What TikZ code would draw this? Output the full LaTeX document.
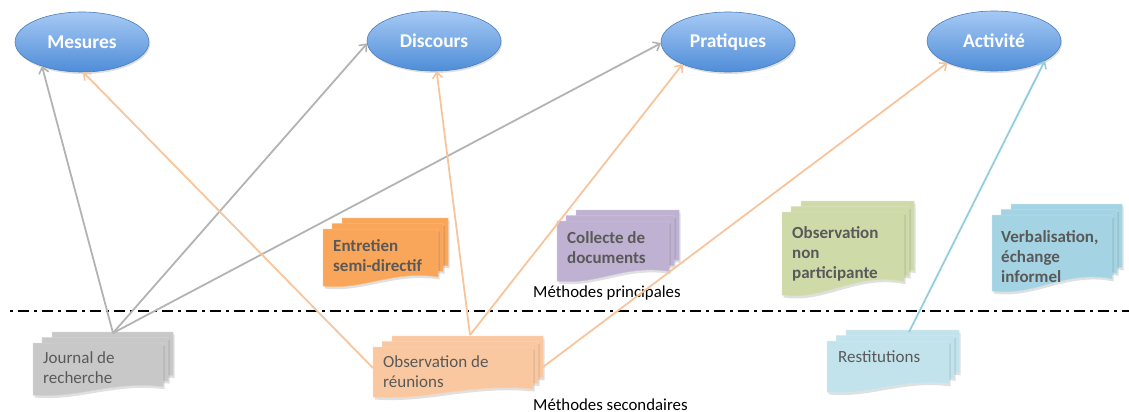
\documentclass[tikz,border=0pt]{standalone}
\usepackage{fontspec}
\setmainfont{Carlito}
\usetikzlibrary{shapes.geometric,arrows.meta,shadows}
\definecolor{elltop}{HTML}{A6C9F4}
\definecolor{ellbot}{HTML}{4F8DD8}
\definecolor{ellline}{HTML}{4A7EBB}
\definecolor{txtgrey}{HTML}{595959}
\definecolor{cgrey}{HTML}{B3B3B3}
\definecolor{cpeach}{HTML}{F8C49B}
\definecolor{cblue}{HTML}{93CDDD}
\definecolor{fentretien}{HTML}{F9A65A}
\definecolor{fcollecte}{HTML}{BFB1D1}
\definecolor{fobsnp}{HTML}{CFDAA9}
\definecolor{fverb}{HTML}{A4D4E3}
\definecolor{fjournal}{HTML}{C8C8C8}
\definecolor{fobsreu}{HTML}{FAC8A0}
\definecolor{frest}{HTML}{C2E3EC}
% one page of a document stack: x, y (top-left), w, h, colour
\newcommand\dpage[5]{%
  \fill[black,opacity=0.12] ({#1+1.5},{#2+2.5}) -- ({#1+#3+1.5},{#2+2.5}) -- ({#1+#3+1.5},{#2+0.84*#4+2.5})
    .. controls ({#1+0.6*#3+1.5},{#2+0.72*#4+2.5}) and ({#1+0.35*#3+1.5},{#2+1.08*#4+2.5}) .. ({#1+1.5},{#2+#4+2.5}) -- cycle;
  \filldraw[fill=#5,draw=#5!80!white,line width=0.5pt] ({#1},{#2}) -- ({#1+#3},{#2}) -- ({#1+#3},{#2+0.84*#4})
    .. controls ({#1+0.6*#3},{#2+0.72*#4}) and ({#1+0.35*#3},{#2+1.08*#4}) .. ({#1},{#2+#4}) -- cycle;}
\newcommand\dstack[5]{%
  \dpage{#1+19}{#2-11}{#3-9}{#4}{#5}%
  \dpage{#1+9}{#2-5.5}{#3-4}{#4}{#5}%
  \dpage{#1}{#2}{#3}{#4}{#5}}
\tikzset{
  ell/.style={ellipse,minimum width=134pt,minimum height=60pt,inner sep=0pt,outer sep=0pt,
    top color=elltop,bottom color=ellbot,draw=ellline,line width=0.6pt,
    drop shadow={opacity=0.25,shadow xshift=1pt,shadow yshift=-2pt},
    text=white,font=\fontsize{19.5}{23}\selectfont\bfseries},
  doctext/.style={anchor=base west,inner sep=0pt,align=left,text=txtgrey,font=\fontsize{17}{20}\selectfont},
  docbold/.style={doctext,font=\fontsize{17}{20}\selectfont\bfseries},
  conn/.style={line width=1.8pt,-{Straight Barb[length=6pt,width=10pt,line width=1.6pt]}},
  greyc/.style={conn,draw=cgrey},
  peachc/.style={conn,draw=cpeach},
  bluec/.style={conn,draw=cblue},
  label/.style={anchor=base west,inner sep=0pt,font=\fontsize{16.8}{19}\selectfont}
}
\begin{document}
\begin{tikzpicture}[x=1pt,y=-1pt]
\useasboundingbox (0,0) rectangle (1129,412);
% document stacks
\dstack{323}{229}{115}{57}{fentretien}
\dstack{557}{221}{112}{60}{fcollecte}
\dstack{782}{212}{122}{83}{fobsnp}
\dstack{992}{215}{120}{76}{fverb}
\dstack{33}{343}{130}{52}{fjournal}
\dstack{373}{347}{160}{50}{fobsreu}
\dstack{827}{341}{122}{51}{frest}
% texts of the stacks (anchored at the baseline of the last line)
\node[docbold] (en) at (333,271) {Entretien\\semi-directif};
\node[docbold] (co) at (567,263) {Collecte de\\documents};
\node[docbold] (on) at (792,278) {Observation\\non\\participante};
\node[docbold] (vb) at (1001,282) {Verbalisation,\\échange\\informel};
\node[doctext] (jo) at (43,383) {Journal de\\recherche};
\node[doctext] (or) at (383,387) {Observation de\\réunions};
\node[doctext] (rs) at (838,362) {Restitutions};
% labels
\node[label] (mp) at (533,297) {Méthodes principales};
\node[label] (ms) at (533,410) {Méthodes secondaires};
% separator
\draw[line width=2.6pt,dash pattern=on 3pt off 5pt on 11pt off 5pt] (10,311) -- (1129,311);
% ellipses
\node[ell] (mes) at (82,42) {Mesures};
\node[ell] (dis) at (434,41) {Discours};
\node[ell] (pra) at (728,42) {Pratiques};
\node[ell] (act) at (994,41) {Activité};
% connector end points on the stacks
\coordinate (jt) at (113,333);
\coordinate (ort) at (470,335);
\coordinate (orl) at (373,368);
\coordinate (orr) at (543,367);
\coordinate (rst) at (909,332);
% connectors
\draw[greyc] (jt) -- (mes.211);
\draw[greyc] (jt) -- (dis.182);
\draw[greyc] (jt) -- (pra.181);
\draw[peachc] (orl) -- (mes.272);
\draw[peachc] (ort) -- (dis.275);
\draw[peachc] (ort) -- (pra.206);
\draw[peachc] (orr) -- (act.205);
\draw[bluec] (rst) -- (act.339);
\end{tikzpicture}
\end{document}
